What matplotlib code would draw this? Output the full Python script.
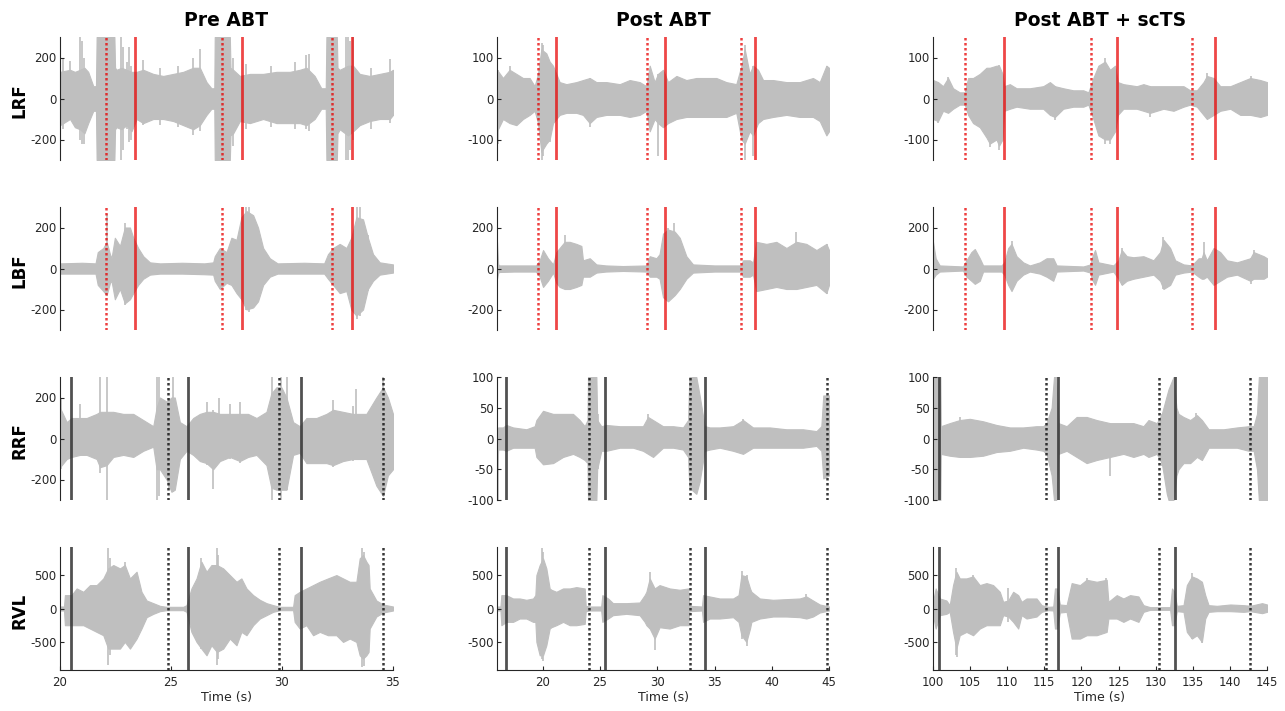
import matplotlib
matplotlib.use('Agg')
import matplotlib.pyplot as plt

plt.rcParams['font.family'] = ['DejaVu Sans']
plt.rcParams['axes.unicode_minus'] = False

# ---------------- data ----------------
COLUMNS = ['Pre ABT', 'Post ABT', 'Post ABT + scTS']
MUSCLES = ['LRF', 'LBF', 'RRF', 'RVL']
XLIMS = [(20, 35), (16, 45), (100, 145)]
XTICKS = [[20, 25, 30, 35], [20, 25, 30, 35, 40, 45],
          [100, 105, 110, 115, 120, 125, 130, 135, 140, 145]]
YLIMS = [[300, 150, 150], [300, 300, 300], [300, 100, 100], [920, 920, 920]]
YTICKS = [[[-200, 0, 200], [-100, 0, 100], [-100, 0, 100]],
          [[-200, 0, 200], [-200, 0, 200], [-200, 0, 200]],
          [[-200, 0, 200], [-100, -50, 0, 50, 100], [-100, -50, 0, 50, 100]],
          [[-500, 0, 500], [-500, 0, 500], [-500, 0, 500]]]

# event markers (s)
RED_SOLID = [[23.36, 28.19, 33.16], [21.18, 30.65, 38.54], [109.54, 124.75, 137.98]]
RED_DOT = [[22.07, 27.29, 32.25], [19.58, 29.13, 37.29], [104.32, 121.29, 134.88]]
BLK_SOLID = [[20.48, 25.77, 30.87], [16.76, 25.41, 34.14], [100.77, 116.88, 132.63]]
BLK_DOT = [[24.87, 29.87, 34.54], [24.04, 32.89, 44.83], [115.21, 130.47, 142.75]]

# EMG envelopes: (time, upper, lower); spikes: (time, upper, lower)
LRF_PRE = [(20.0,130,-130),(20.45,140,-100),(20.67,130,-140),(20.9,140,-150),(21.1,150,-170),(21.27,130,-120),(21.5,60,-60),(21.62,60,-60),(21.65,300,-300),(22.45,300,-300),(22.48,150,-150),(22.55,140,-140),(22.77,150,-150),(23.0,140,-130),(23.22,130,-160),(23.45,130,-100),(23.75,140,-120),(24.2,120,-100),(24.65,110,-100),(25.1,120,-110),(25.55,130,-130),(26.0,150,-150),(26.3,150,-130),(26.6,80,-80),(26.82,50,-50),(26.95,50,-50),(26.97,300,-300),(27.65,300,-300),(27.68,150,-180),(27.8,140,-170),(28.1,110,-110),(28.55,120,-120),(29.15,120,-100),(29.75,130,-120),(30.35,130,-120),(30.8,140,-120),(31.1,150,-130),(31.47,110,-100),(31.77,50,-50),(31.97,50,-50),(32.0,300,-300),(32.47,300,-300),(32.5,150,-170),(32.6,140,-150),(32.97,160,-180),(33.2,160,-160),(33.5,120,-130),(33.95,110,-110),(34.4,120,-100),(34.85,130,-100),(35.0,140,-80)]
LRF_PRE_SPK = [(20.15,200,-150),(20.45,185,-100),(20.9,300,-200),(21.0,280,-220),(21.1,200,-220),(22.77,300,-300),(22.85,250,-250),(23.0,180,-150),(23.1,250,-210),(23.22,160,-200),(23.75,190,-130),(24.5,150,-130),(25.3,160,-140),(26.0,200,-180),(26.3,240,-160),(27.8,200,-230),(28.4,170,-150),(29.5,160,-140),(30.6,180,-150),(31.1,210,-150),(31.2,215,-160),(32.9,300,-300),(32.97,300,-300),(33.05,280,-250),(33.2,300,-200),(34.0,150,-150),(34.85,195,-120)]

LBF_PRE = [(20.0,25,-25),(21.0,28,-25),(21.6,25,-25),(21.7,80,-80),(21.95,100,-110),(22.1,130,-130),(22.25,70,-70),(22.32,50,-60),(22.47,150,-150),(22.7,110,-100),(22.92,200,-170),(23.15,200,-150),(23.3,150,-120),(23.52,100,-80),(23.75,60,-50),(24.05,30,-30),(24.5,25,-25),(25.5,28,-25),(26.5,25,-28),(26.9,30,-30),(26.97,60,-60),(27.2,100,-100),(27.5,80,-70),(27.72,150,-80),(27.95,140,-120),(28.17,250,-150),(28.4,280,-200),(28.7,260,-190),(28.92,200,-160),(29.15,100,-80),(29.45,50,-40),(29.8,25,-25),(31.0,28,-25),(31.9,25,-25),(32.07,70,-50),(32.3,100,-80),(32.6,120,-120),(32.9,100,-110),(33.12,150,-200),(33.35,250,-230),(33.65,240,-200),(33.87,150,-100),(34.1,70,-60),(34.4,30,-30),(35.0,20,-20)]
LBF_PRE_SPK = [(22.1,265,-130),(22.92,220,-180),(28.4,300,-200),(28.5,300,-210),(33.4,300,-245),(33.5,300,-230),(33.87,165,-110)]

RRF_PRE = [(20.0,150,-140),(20.3,80,-100),(20.52,100,-90),(20.9,100,-80),(21.2,100,-80),(21.65,120,-100),(21.8,130,-140),(22.1,130,-130),(22.4,130,-90),(22.85,120,-80),(23.3,120,-90),(23.75,90,-60),(24.2,60,-40),(24.35,150,-150),(24.5,200,-150),(24.8,180,-200),(25.02,200,-260),(25.17,200,-250),(25.4,80,-100),(25.7,60,-60),(26.0,100,-80),(26.3,120,-110),(26.6,130,-120),(26.9,130,-150),(27.2,120,-110),(27.65,120,-90),(28.1,120,-110),(28.47,120,-90),(28.85,100,-80),(29.3,130,-130),(29.52,220,-240),(29.75,250,-250),(29.97,250,-250),(30.2,200,-250),(30.5,80,-80),(30.8,60,-70),(31.1,100,-120),(31.55,100,-120),(32.0,120,-120),(32.3,140,-130),(32.75,130,-110),(33.2,120,-100),(33.5,120,-100),(33.8,120,-100),(34.25,200,-230),(34.55,250,-280),(34.77,200,-180),(35.0,120,-150)]
RRF_PRE_SPK = [(20.0,200,-140),(20.05,200,-150),(20.9,170,-80),(21.8,300,-170),(22.1,300,-300),(24.35,300,-300),(24.45,300,-280),(24.9,200,-240),(25.1,300,-260),(26.6,180,-130),(26.9,140,-245),(27.15,200,-120),(27.65,170,-100),(28.1,180,-120),(29.55,300,-300),(29.95,300,-300),(30.22,300,-250),(32.3,190,-140),(33.2,160,-110),(33.35,240,-100),(34.55,300,-280)]

RVL_PRE = [(20.0,30,-30),(20.18,30,-30),(20.22,200,-250),(20.52,200,-250),(20.75,300,-250),(21.05,250,-250),(21.35,350,-300),(21.65,350,-350),(21.95,450,-400),(22.17,600,-600),(22.4,650,-600),(22.7,600,-600),(22.92,650,-500),(23.15,450,-600),(23.45,550,-450),(23.67,250,-300),(23.9,120,-130),(24.2,80,-80),(24.5,40,-40),(24.8,25,-25),(25.55,25,-25),(25.7,50,-50),(25.92,300,-350),(26.15,450,-500),(26.37,700,-600),(26.6,550,-700),(26.82,650,-550),(27.07,650,-650),(27.35,600,-600),(27.65,500,-450),(27.95,400,-550),(28.17,450,-350),(28.4,300,-400),(28.7,200,-250),(29.0,130,-150),(29.3,80,-100),(29.6,50,-50),(29.9,25,-25),(30.5,25,-25),(30.57,200,-200),(30.8,250,-300),(31.1,300,-250),(31.4,350,-400),(31.7,400,-350),(32.07,450,-400),(32.45,500,-400),(32.75,450,-500),(33.05,400,-450),(33.35,400,-500),(33.5,750,-700),(33.65,800,-750),(33.8,700,-700),(33.9,650,-650),(33.95,300,-300),(34.25,120,-120),(34.55,60,-60),(35.0,30,-30)]
RVL_PRE_SPK = [(22.17,900,-850),(22.25,750,-700),(22.92,700,-500),(26.37,760,-600),(26.6,550,-700),(27.07,900,-850),(27.13,800,-750),(33.6,900,-880),(33.7,850,-860)]

LRF_POST = [(16.0,70,-80),(16.52,50,-50),(17.1,70,-60),(17.69,60,-65),(18.27,50,-50),(18.85,50,-40),(19.29,30,-30),(19.58,60,-60),(19.87,120,-130),(20.31,110,-110),(20.6,90,-100),(20.89,80,-60),(21.18,60,-50),(21.47,40,-40),(22.06,35,-35),(22.93,40,-35),(23.51,45,-40),(24.1,50,-60),(24.68,40,-45),(25.55,40,-40),(26.72,35,-40),(27.59,45,-45),(28.46,40,-40),(29.05,30,-30),(29.34,80,-80),(29.77,40,-50),(30.06,60,-60),(30.5,70,-70),(30.94,40,-60),(31.67,55,-50),(32.54,45,-45),(33.41,50,-45),(34.29,50,-45),(35.16,50,-45),(36.03,40,-45),(36.9,35,-35),(37.35,80,-100),(37.64,120,-110),(38.07,60,-80),(38.36,80,-90),(38.8,70,-60),(39.24,45,-50),(40.11,45,-45),(41.28,40,-40),(42.44,40,-45),(43.6,50,-45),(44.19,40,-55),(44.77,80,-90),(45.0,75,-80)]
LRF_POST_SPK = [(16.1,70,-110),(17.1,80,-60),(19.9,135,-150),(20.0,130,-140),(20.6,90,-105),(24.1,50,-70),(30.1,60,-140),(37.7,130,-150),(38.4,80,-140),(44.85,80,-90)]

LBF_POST = [(16.0,130,-50),(16.1,20,-20),(16.23,15,-17),(17.5,15,-15),(19.4,15,-15),(19.73,40,-40),(20.02,90,-90),(20.45,50,-60),(20.9,20,-20),(21.18,80,-70),(21.47,100,-90),(21.91,130,-100),(22.35,130,-100),(22.93,120,-90),(23.37,110,-80),(23.51,40,-40),(24.1,50,-40),(24.68,20,-20),(25.5,15,-15),(27.0,12,-12),(29.05,15,-15),(29.34,60,-40),(29.92,50,-40),(30.2,70,-50),(30.5,170,-140),(30.94,190,-160),(31.52,180,-130),(31.96,150,-100),(32.54,60,-50),(33.12,20,-20),(35.0,15,-15),(37.3,15,-15),(37.49,40,-40),(38.07,40,-40),(38.36,30,-30),(38.65,130,-110),(39.53,120,-100),(40.4,130,-90),(41.28,100,-100),(42.15,130,-100),(43.02,120,-90),(43.9,90,-80),(44.77,120,-120),(45.0,90,-80)]
LBF_POST_SPK = [(21.91,165,-100),(30.94,200,-160),(31.5,220,-130),(42.15,180,-100),(44.8,120,-125)]

RRF_POST = [(16.0,10,-60),(16.1,18,-18),(16.52,18,-18),(16.81,22,-20),(17.4,18,-15),(18.56,15,-15),(19.29,20,-15),(19.44,30,-30),(20.02,45,-42),(20.9,40,-40),(21.77,40,-30),(22.64,40,-25),(23.22,30,-30),(23.66,20,-35),(23.9,30,-40),(23.95,100,-100),(24.68,100,-100),(24.75,30,-50),(25.11,20,-20),(25.55,22,-20),(26.72,20,-15),(27.88,20,-15),(28.75,20,-20),(29.19,35,-25),(29.63,30,-30),(30.5,20,-15),(31.38,20,-15),(32.25,18,-18),(32.69,30,-30),(32.8,100,-80),(33.41,100,-90),(33.7,70,-70),(34.14,20,-20),(34.58,18,-18),(35.45,18,-15),(36.62,20,-20),(37.49,30,-25),(38.36,18,-15),(39.82,18,-15),(41.28,15,-15),(42.73,15,-15),(43.9,12,-12),(44.33,20,-20),(44.5,70,-65),(45.0,70,-60)]
RRF_POST_SPK = [(16.05,10,-100),(24.8,40,-50),(29.2,40,-25),(37.5,32,-25)]

RVL_POST = [(16.0,30,-30),(16.3,30,-30),(16.38,200,-250),(16.81,200,-200),(17.4,150,-200),(17.98,150,-150),(18.56,130,-150),(19.15,150,-200),(19.35,200,-200),(19.44,500,-500),(19.73,650,-700),(20.02,750,-700),(20.31,600,-550),(20.6,300,-300),(20.75,280,-280),(21.18,250,-250),(21.77,300,-200),(22.35,300,-250),(22.93,320,-250),(23.66,300,-230),(23.75,40,-40),(24.1,30,-30),(25.1,30,-30),(25.2,200,-200),(25.7,150,-150),(26.13,80,-100),(27.3,80,-80),(28.46,90,-100),(28.9,200,-200),(29.05,250,-250),(29.34,450,-300),(29.77,300,-450),(30.2,350,-280),(31.08,300,-300),(31.96,280,-250),(32.69,300,-250),(32.8,40,-40),(33.9,30,-30),(34.0,200,-200),(34.58,180,-150),(35.45,150,-150),(36.62,150,-130),(37.1,200,-200),(37.35,500,-400),(37.78,480,-500),(38.1,300,-300),(38.22,250,-200),(38.95,150,-150),(40.11,130,-120),(41.28,140,-120),(42.44,150,-130),(43.02,180,-150),(43.6,120,-120),(44.19,60,-60),(45.0,30,-30)]
RVL_POST_SPK = [(19.9,900,-750),(20.0,850,-780),(29.4,540,-300),(29.8,300,-614),(37.4,560,-450),(37.8,500,-555),(43.0,213,-150)]

LRF_SCTS = [(100.0,45,-50),(100.68,40,-55),(101.35,30,-30),(102.03,50,-35),(102.7,25,-25),(103.6,15,-15),(104.28,15,-15),(104.73,50,-40),(105.4,50,-60),(106.3,60,-70),(107.2,75,-95),(107.65,75,-110),(108.55,80,-100),(108.9,80,-115),(109.36,60,-100),(109.6,30,-30),(110.35,35,-25),(111.25,25,-20),(113.05,25,-25),(114.85,30,-25),(115.75,40,-40),(116.43,30,-45),(117.55,25,-25),(118.9,20,-20),(120.25,20,-20),(120.93,15,-15),(121.6,50,-50),(122.28,80,-90),(123.18,90,-100),(123.85,70,-100),(124.53,80,-80),(124.9,40,-40),(125.65,35,-25),(127.45,30,-25),(128.35,35,-30),(129.25,30,-35),(131.05,30,-25),(132.4,30,-30),(133.75,30,-20),(134.65,20,-15),(135.55,20,-20),(136.45,40,-40),(136.9,55,-50),(137.8,50,-40),(138.7,30,-30),(140.05,30,-25),(141.4,40,-40),(142.75,50,-40),(144.1,45,-45),(145.0,40,-40)]
LRF_SCTS_SPK = [(100.7,40,-60),(102.0,52,-35),(107.7,75,-118),(108.9,82,-125),(116.4,30,-52),(123.2,100,-110),(123.9,70,-112),(129.3,30,-45),(136.9,62,-50),(142.8,55,-40)]

LBF_SCTS = [(100.0,130,-50),(100.36,50,-30),(100.9,15,-15),(104.05,10,-10),(104.5,40,-40),(105.17,80,-60),(105.63,95,-75),(106.3,50,-60),(106.75,15,-15),(109.23,15,-15),(109.6,30,-30),(110.13,100,-80),(110.58,120,-110),(111.25,60,-60),(112.15,30,-30),(113.05,15,-15),(114.4,30,-25),(115.3,50,-40),(116.2,50,-60),(116.65,15,-15),(120.25,10,-10),(121.2,20,-20),(121.38,50,-50),(121.83,90,-80),(122.28,30,-30),(124.3,15,-15),(124.98,40,-50),(125.43,90,-80),(126.1,60,-60),(127.0,55,-50),(128.35,60,-40),(129.7,40,-30),(130.6,80,-60),(131.05,140,-100),(131.95,100,-80),(132.63,40,-30),(133.75,20,-20),(134.88,15,-15),(135.78,50,-40),(136.2,50,-50),(136.45,80,-50),(136.9,40,-40),(137.8,100,-80),(138.7,80,-60),(139.6,40,-40),(140.95,30,-30),(142.75,50,-60),(143.2,80,-50),(144.55,60,-50),(145.0,50,-40)]
LBF_SCTS_SPK = [(110.6,135,-110),(125.4,100,-80),(131.0,152,-100),(136.45,127,-50),(142.8,50,-78),(143.2,90,-50)]

RRF_SCTS = [(100.0,100,-100),(100.99,100,-100),(101.05,20,-25),(102.25,25,-28),(103.6,30,-30),(104.95,32,-30),(106.75,28,-28),(108.55,22,-22),(110.35,18,-20),(112.15,18,-15),(113.95,20,-18),(114.85,20,-20),(115.3,25,-25),(115.98,50,-60),(116.3,100,-100),(116.6,100,-100),(116.9,25,-25),(118.0,20,-20),(119.35,35,-30),(120.7,35,-40),(122.05,30,-35),(123.85,25,-30),(125.65,25,-25),(127.0,25,-30),(128.35,20,-25),(129.03,30,-30),(130.15,25,-25),(130.83,40,-40),(131.5,70,-90),(131.73,80,-100),(132.4,100,-100),(132.8,50,-60),(133.08,40,-50),(133.75,35,-40),(134.65,30,-40),(135.55,38,-30),(136.23,30,-35),(137.13,15,-15),(139.15,15,-15),(140.95,18,-15),(142.53,20,-20),(143.2,20,-20),(143.65,40,-50),(143.9,100,-100),(145.0,100,-100)]
RRF_SCTS_SPK = [(103.7,35,-30),(123.9,25,-61),(130.8,40,-45),(135.5,42,-30)]

RVL_SCTS = [(100.0,100,-100),(100.36,300,-300),(100.9,150,-100),(101.8,120,-80),(102.25,50,-50),(102.7,350,-350),(103.15,550,-600),(103.6,450,-400),(104.5,450,-350),(105.4,480,-400),(106.3,350,-300),(107.2,380,-250),(108.1,350,-250),(109.0,250,-250),(109.45,100,-100),(110.13,120,-120),(110.8,250,-200),(111.48,200,-300),(111.93,100,-100),(112.6,150,-150),(113.95,150,-120),(114.63,50,-50),(115.53,25,-25),(116.2,30,-30),(116.43,300,-300),(116.7,300,-300),(117.1,60,-60),(118.0,50,-50),(118.68,380,-450),(119.8,350,-450),(120.7,430,-400),(122.05,400,-400),(123.4,430,-350),(123.63,100,-150),(124.75,200,-150),(125.65,150,-200),(126.55,200,-150),(127.68,180,-200),(128.35,50,-50),(129.25,20,-20),(131.95,20,-20),(132.2,300,-250),(132.5,250,-250),(132.85,40,-40),(133.75,50,-50),(134.2,350,-350),(134.88,480,-450),(135.55,450,-400),(136.23,400,-500),(136.68,200,-150),(137.13,50,-50),(138.25,40,-40),(140.05,60,-40),(141.85,50,-50),(142.75,40,-40),(144.33,80,-70),(145.0,60,-50)]
RVL_SCTS_SPK = [(103.15,610,-700),(103.3,520,-720),(105.4,500,-400),(110.1,300,-200),(120.7,450,-400),(123.3,450,-350),(134.9,535,-450),(136.2,400,-510)]

SIGNALS = [[LRF_PRE, LRF_POST, LRF_SCTS], [LBF_PRE, LBF_POST, LBF_SCTS],
           [RRF_PRE, RRF_POST, RRF_SCTS], [RVL_PRE, RVL_POST, RVL_SCTS]]
SPIKES = [[LRF_PRE_SPK, LRF_POST_SPK, LRF_SCTS_SPK], [LBF_PRE_SPK, LBF_POST_SPK, LBF_SCTS_SPK],
          [RRF_PRE_SPK, RRF_POST_SPK, RRF_SCTS_SPK], [RVL_PRE_SPK, RVL_POST_SPK, RVL_SCTS_SPK]]

# ---------------- layout / style ----------------
W, H = 1285, 711
COL_L = [60, 497, 933]
COL_W = [333, 332, 334]
ROW_T = [37, 207, 377, 547]
AX_H = 123
GRAY = '#bfbfbf'
AXC = '#262626'
RED = '#e80000'

fig = plt.figure(figsize=(W / 100, H / 100), dpi=100)

for r in range(4):
    for c in range(3):
        ax = fig.add_axes([COL_L[c] / W, 1 - (ROW_T[r] + AX_H) / H, COL_W[c] / W, AX_H / H])
        sig = SIGNALS[r][c]
        t = [p[0] for p in sig]
        hi = [p[1] for p in sig]
        lo = [p[2] for p in sig]
        ax.fill_between(t, lo, hi, color=GRAY, lw=0.8, zorder=1)
        spk = SPIKES[r][c]
        ax.vlines([p[0] for p in spk], [p[2] for p in spk], [p[1] for p in spk],
                  color=GRAY, lw=1.2, zorder=1)
        if r < 2:
            for x in RED_DOT[c]:
                ax.axvline(x, color=RED, lw=1.8, ls=(0, (1, 1)), alpha=0.75, zorder=3)
            for x in RED_SOLID[c]:
                ax.axvline(x, color=RED, lw=2.0, alpha=0.72, zorder=3)
        else:
            for x in BLK_DOT[c]:
                ax.axvline(x, color='#222222', lw=1.8, ls=(0, (1, 1)), alpha=0.9, zorder=3)
            for x in BLK_SOLID[c]:
                ax.axvline(x, color='#333333', lw=2.0, alpha=0.85, zorder=3)
        ax.set_xlim(*XLIMS[c])
        ax.set_ylim(-YLIMS[r][c], YLIMS[r][c])
        ax.set_yticks(YTICKS[r][c])
        ax.set_yticklabels([str(v) for v in YTICKS[r][c]])
        for s in ['top', 'right']:
            ax.spines[s].set_visible(False)
        ax.spines['left'].set_color(AXC)
        ax.spines['left'].set_linewidth(0.8)
        ax.tick_params(axis='y', direction='in', length=3, width=0.8, colors=AXC,
                       labelsize=8.5, pad=2.5)
        ax.patch.set_alpha(0)
        if r < 3:
            ax.spines['bottom'].set_visible(False)
            ax.set_xticks([])
        else:
            ax.spines['bottom'].set_color(AXC)
            ax.spines['bottom'].set_linewidth(0.8)
            ax.set_xticks(XTICKS[c])
            ax.set_xticklabels([str(v) for v in XTICKS[c]])
            ax.tick_params(axis='x', direction='in', length=3, width=0.8, colors=AXC,
                           labelsize=8.5, pad=4)
            ax.set_xlabel('Time (s)', fontsize=9, color=AXC, labelpad=2)
        if r == 0:
            fig.text((COL_L[c] + COL_W[c] / 2) / W, 1 - 21 / H, COLUMNS[c],
                     ha='center', va='center', fontsize=13.5, fontweight='bold')
        if c == 0:
            fig.text(19 / W, 1 - (ROW_T[r] + AX_H / 2 + 2) / H, MUSCLES[r],
                     ha='center', va='center', rotation=90, fontsize=12,
                     fontweight='bold')

fig.savefig('out.png', dpi=100)
